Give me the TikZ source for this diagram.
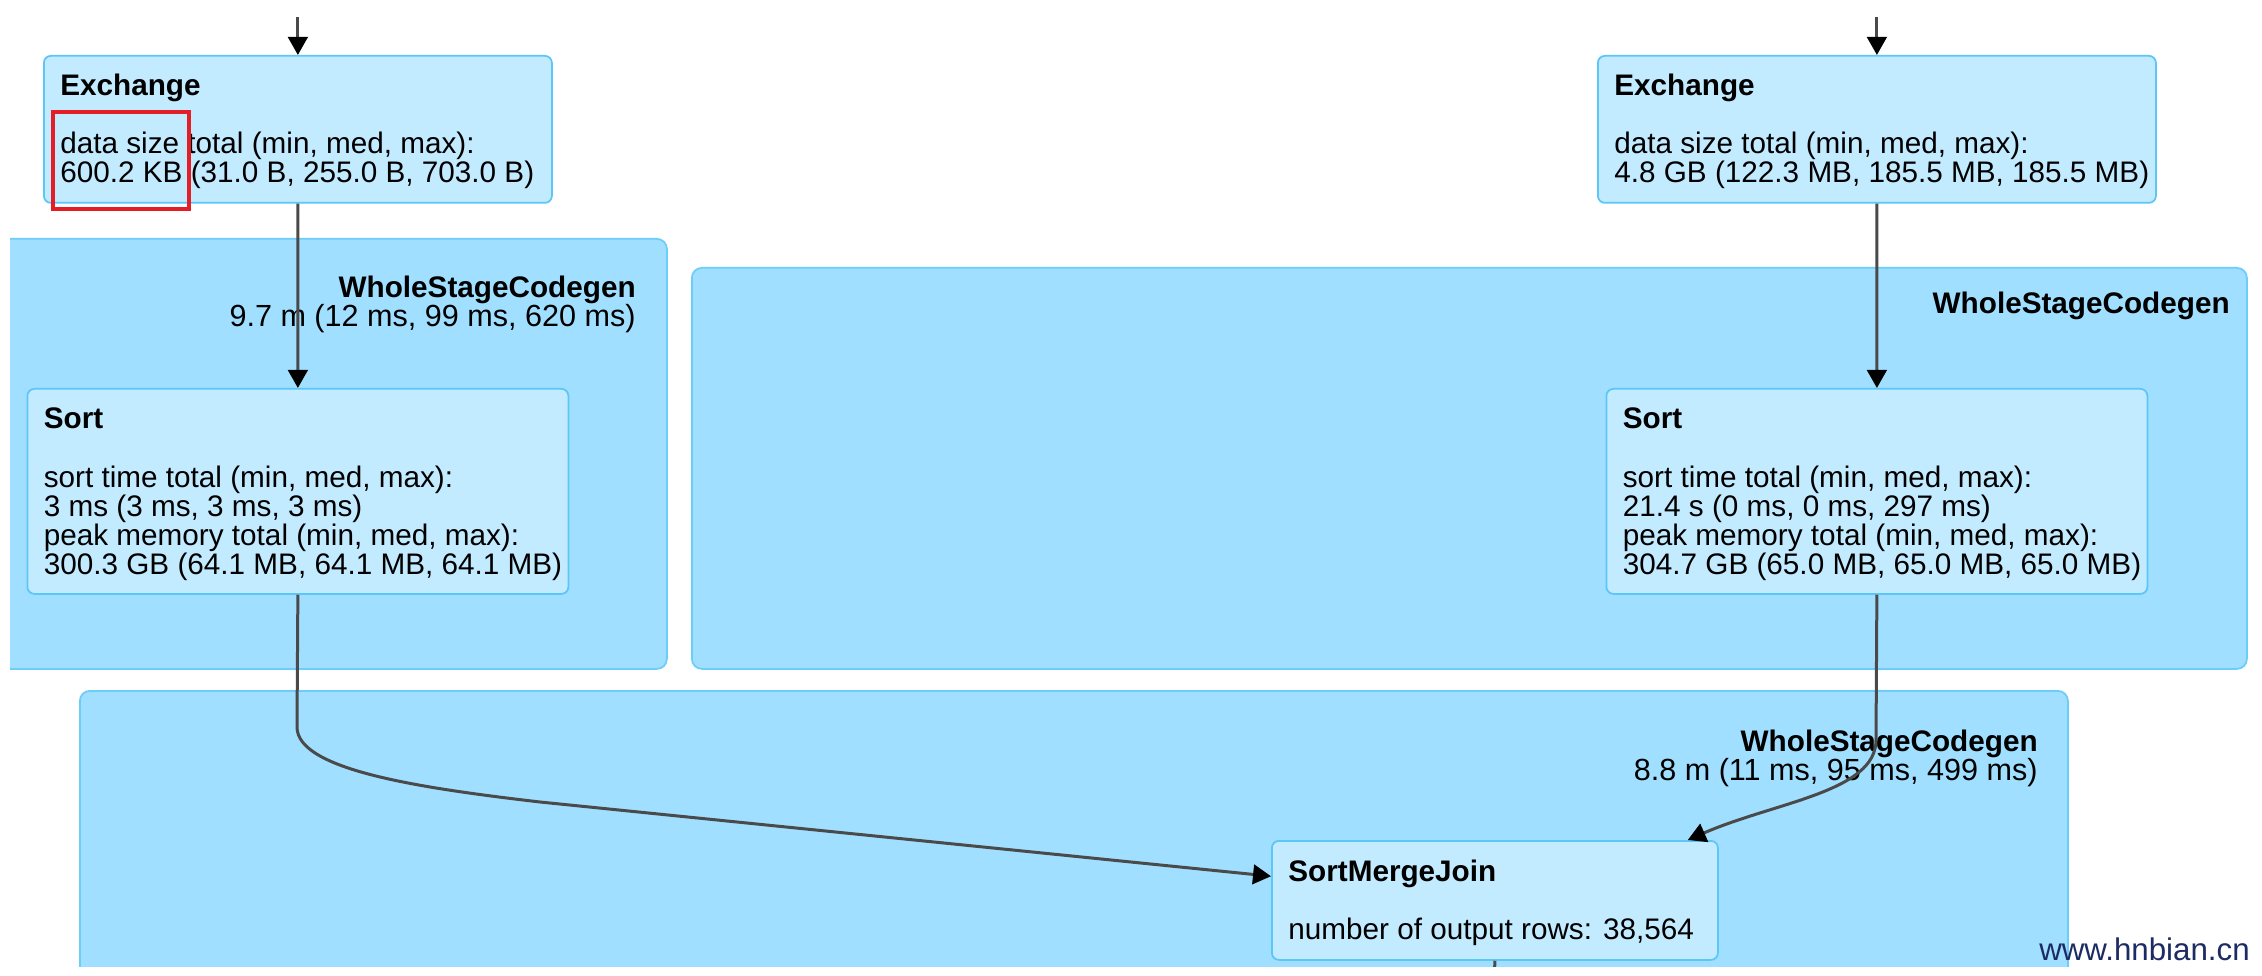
\documentclass[tikz,border=0pt]{standalone}
\usepackage{fontspec}
\setmainfont{Liberation Sans}
\usetikzlibrary{arrows.meta,calc,positioning}
\definecolor{clusterBlue}{HTML}{A0DFFF}
\definecolor{clusterLine}{HTML}{6CCDF9}
\definecolor{opBlue}{HTML}{C3EBFF}
\definecolor{opLine}{HTML}{5CC6F7}
\definecolor{edgeGray}{HTML}{4A4A4A}
\definecolor{markRed}{HTML}{E41E26}
\definecolor{siteNavy}{HTML}{1C2B63}
\newlength\pxu
\setlength\pxu{0.2mm}
\tikzset{
  font=\fontsize{16.9}{16.4}\selectfont,
  edge/.style={-{Triangle[length=3.6mm,width=3.9mm,color=black]}, draw=edgeGray, line width=0.6mm},
  cluster/.style={rectangle, rounded corners=2mm, draw=clusterLine, line width=0.35mm, fill=clusterBlue, anchor=north west, inner sep=0pt},
  opbox/.style={rectangle, rounded corners=1.4mm, draw=opLine, line width=0.35mm, fill=opBlue, anchor=north west, inner sep=0pt},
  opTitle/.style={font=\fontsize{16.9}{16.4}\selectfont\bfseries, anchor=base west, inner sep=0pt},
  metric/.style={anchor=base west, inner sep=0pt},
  stageLabel/.style={font=\fontsize{16.9}{16.4}\selectfont\bfseries, anchor=base east, inner sep=0pt},
  stageTime/.style={font=\fontsize{17.4}{16.4}\selectfont, anchor=base east, inner sep=0pt},
  hilite/.style={draw=markRed, line width=0.9mm},
  siteMark/.style={font=\fontsize{17.8}{18}\selectfont, text=siteNavy, anchor=base east, inner sep=0pt}
}

\begin{document}
\begin{tikzpicture}[x=0.2mm,y=-0.2mm]
\useasboundingbox[fill=white] (0,0) rectangle (2262,976);

\begin{scope}
\clip (10,0) rectangle (2262,966);

% ------------------------------------------------------------------
% stage clusters
% ------------------------------------------------------------------
\node[cluster, minimum width=686\pxu, minimum height=430\pxu] (stageL) at (-20,238) {};
\node[cluster, minimum width=1555\pxu, minimum height=401\pxu] (stageR) at (691,267) {};
\node[cluster, minimum width=1988\pxu, minimum height=320\pxu] (stageJ) at (79,690) {};

\node[stageLabel] at (636,298) {WholeStageCodegen};
\node[stageTime] at (636,327) {9.7 m (12 ms, 99 ms, 620 ms)};
\node[stageLabel] at (2230,314) {WholeStageCodegen};
\node[stageLabel] at (2038,751) {WholeStageCodegen};
\node[stageTime] at (2038,780) {8.8 m (11 ms, 95 ms, 499 ms)};

% ------------------------------------------------------------------
% operators
% ------------------------------------------------------------------
\node[opbox, minimum width=508\pxu, minimum height=147\pxu] (exL) at (43,55) {};
\node[opTitle] at ($(exL.north west)+(17,41)$) {Exchange};
\node[metric] at ($(exL.north west)+(17,99)$) {data size total (min, med, max):};
\node[metric] at ($(exL.north west)+(17,128)$) {600.2 KB (31.0 B, 255.0 B, 703.0 B)};

\node[opbox, minimum width=541\pxu, minimum height=205\pxu] (sortL) at (26.5,388) {};
\node[opTitle] at ($(sortL.north west)+(17,41)$) {Sort};
\node[metric] at ($(sortL.north west)+(17,99)$) {sort time total (min, med, max):};
\node[metric] at ($(sortL.north west)+(17,128)$) {3 ms (3 ms, 3 ms, 3 ms)};
\node[metric] at ($(sortL.north west)+(17,157)$) {peak memory total (min, med, max):};
\node[metric] at ($(sortL.north west)+(17,186)$) {300.3 GB (64.1 MB, 64.1 MB, 64.1 MB)};

\node[opbox, minimum width=558\pxu, minimum height=147\pxu] (exR) at (1597,55) {};
\node[opTitle] at ($(exR.north west)+(17,41)$) {Exchange};
\node[metric] at ($(exR.north west)+(17,99)$) {data size total (min, med, max):};
\node[metric] at ($(exR.north west)+(17,128)$) {4.8 GB (122.3 MB, 185.5 MB, 185.5 MB)};

\node[opbox, minimum width=541\pxu, minimum height=205\pxu] (sortR) at (1605.5,388) {};
\node[opTitle] at ($(sortR.north west)+(17,41)$) {Sort};
\node[metric] at ($(sortR.north west)+(17,99)$) {sort time total (min, med, max):};
\node[metric] at ($(sortR.north west)+(17,128)$) {21.4 s (0 ms, 0 ms, 297 ms)};
\node[metric] at ($(sortR.north west)+(17,157)$) {peak memory total (min, med, max):};
\node[metric] at ($(sortR.north west)+(17,186)$) {304.7 GB (65.0 MB, 65.0 MB, 65.0 MB)};

\node[opbox, minimum width=446\pxu, minimum height=119\pxu] (smj) at (1271,840) {};
\node[opTitle] at ($(smj.north west)+(17,41)$) {SortMergeJoin};
\node[metric] at ($(smj.north west)+(17,99)$) {number of output rows: 38,564};

\draw[hilite] (53,112) rectangle (189,209);

% ------------------------------------------------------------------
% edges
% ------------------------------------------------------------------
\coordinate (inL) at ($(exL.north)+(0,-38)$);
\coordinate (inR) at ($(exR.north)+(0,-38)$);
\coordinate (bendL) at (297,727);
\coordinate (runL) at (540,802);
\coordinate (bendR) at (1876,740);
\coordinate (outJ) at (1494,990);

\draw[edge] (inL) -- (exL.north);
\draw[edge] (inR) -- (exR.north);
\draw[edge] (exL.south) -- (sortL.north);
\draw[edge] (exR.south) -- (sortR.north);
\draw[edge] (sortL.south) -- (bendL) .. controls (297,770) and (420,788) .. (runL)
  -- ($(smj.north west)!0.3!(smj.south west)$);
\draw[edge] (sortR.south) -- (bendR) .. controls (1876,792) and (1775,802) .. ($(smj.north east)+(-31,0)$);
\draw[draw=edgeGray, line width=0.6mm] (smj.south) -- (outJ);
\end{scope}

\node[siteMark] (site) at (2250,960) {www.hnbian.cn};
\end{tikzpicture}
\end{document}
